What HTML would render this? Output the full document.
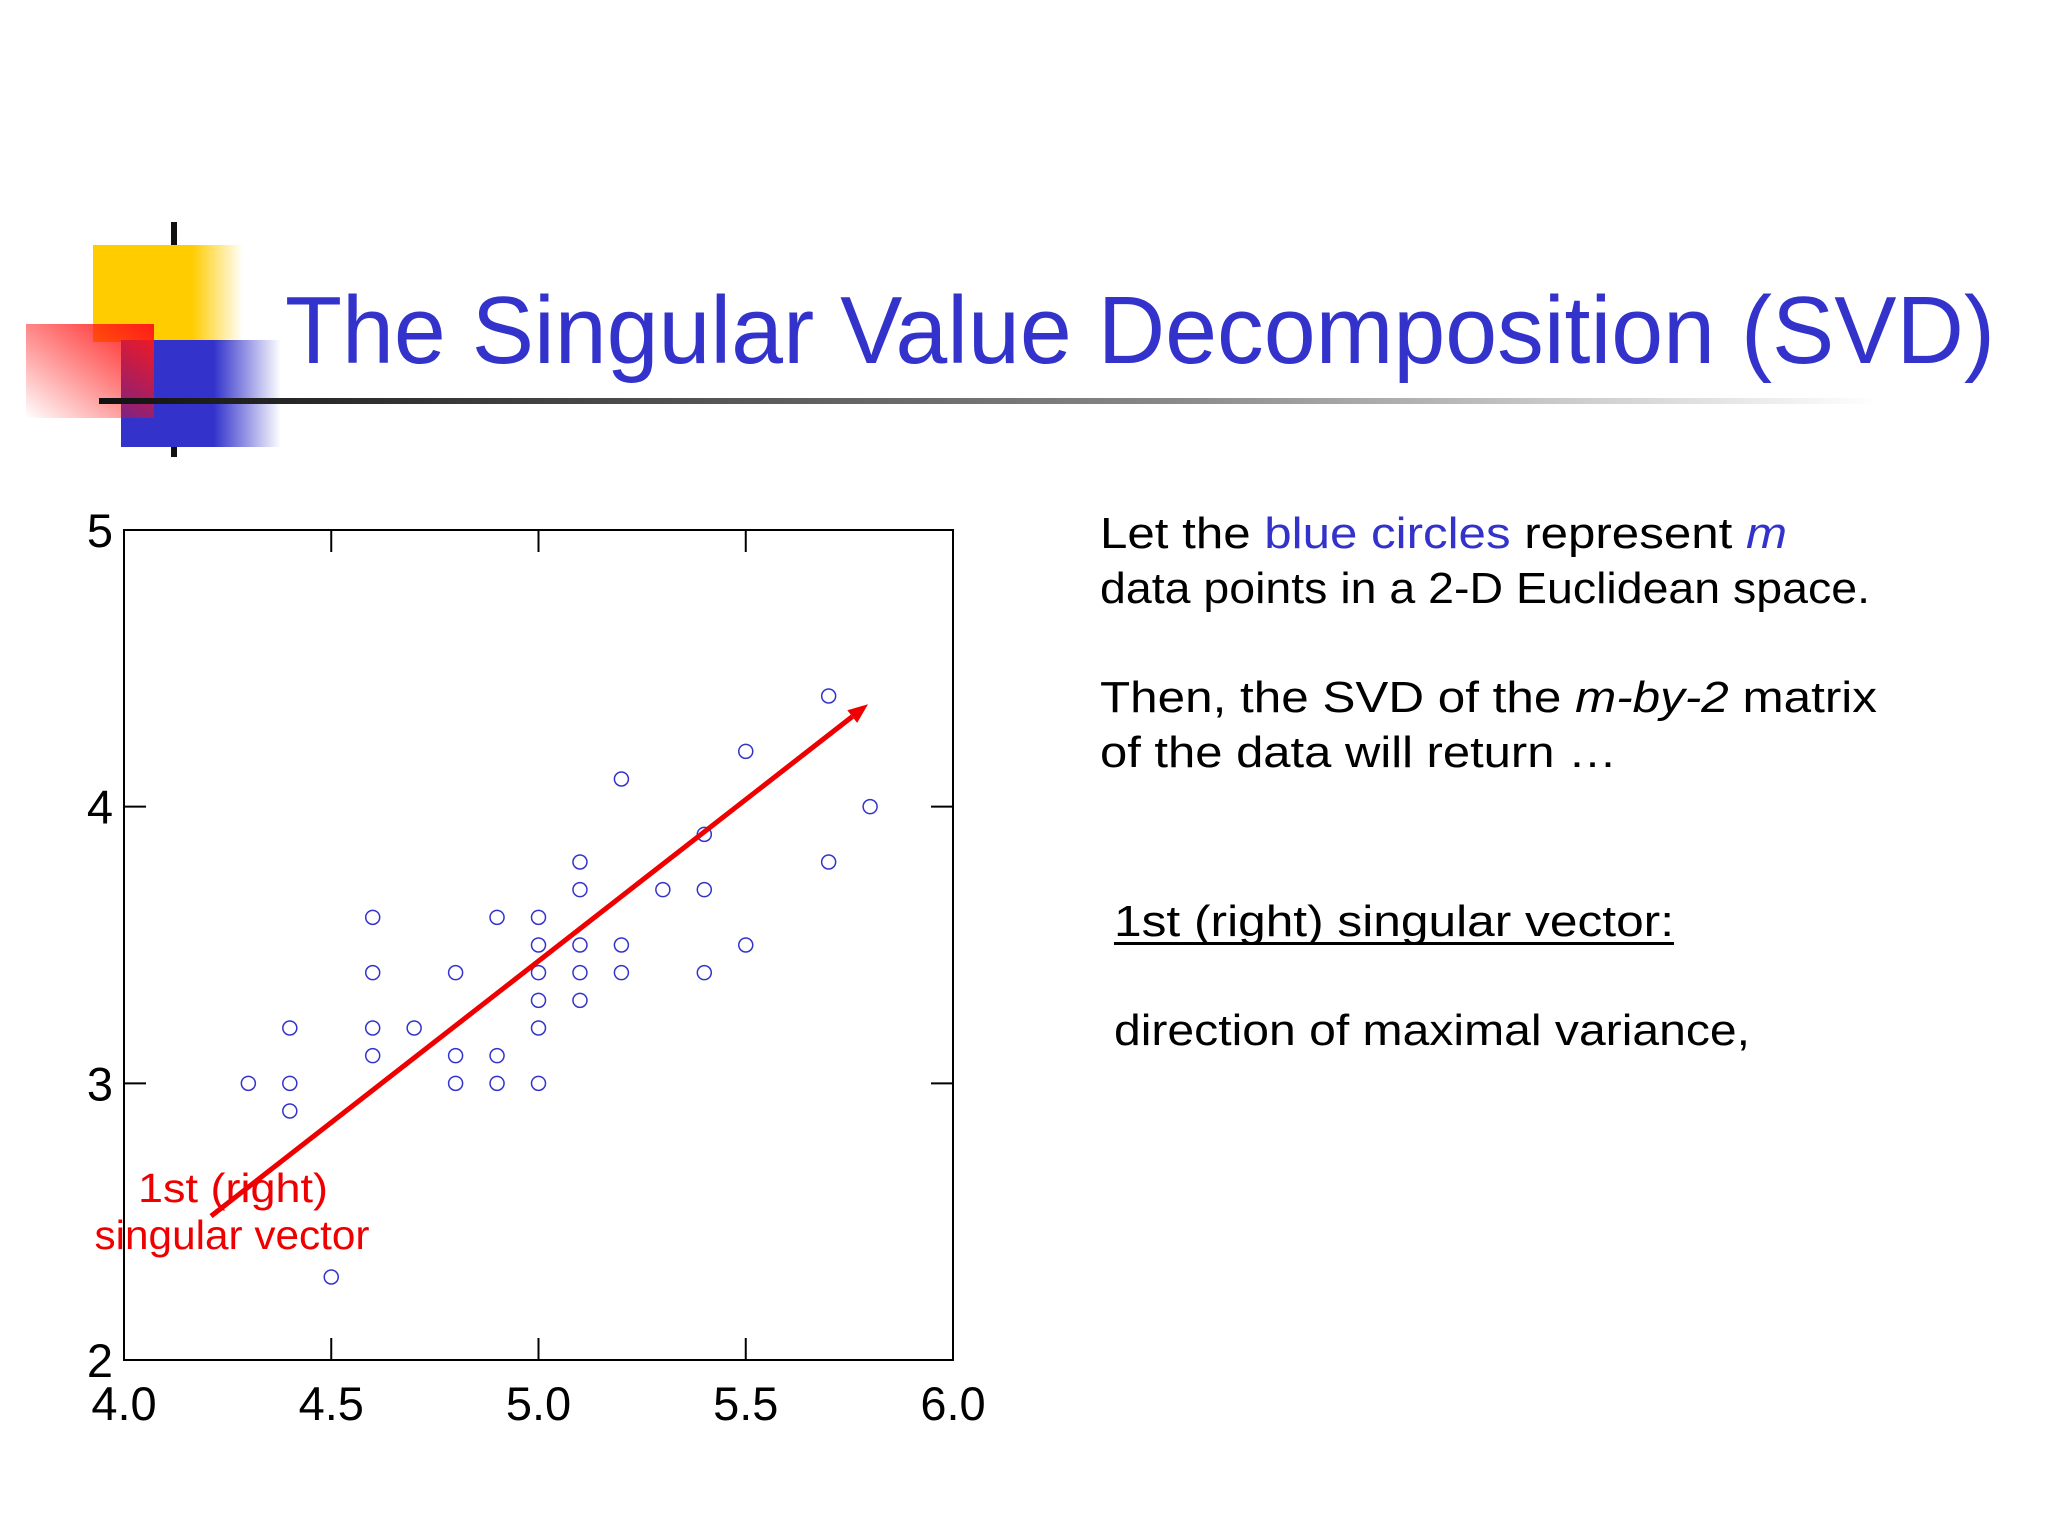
<!DOCTYPE html>
<html><head><meta charset="utf-8"><style>
html,body{margin:0;padding:0;background:#fff;}
svg{display:block;}
text{font-family:"Liberation Sans",sans-serif;}
</style></head><body>
<svg id="slide" width="2048" height="1536" viewBox="0 0 2048 1536">
<defs>
<linearGradient id="gy" x1="0" x2="1" y1="0" y2="0"><stop offset="0.66" stop-color="#ffcc00"/><stop offset="1" stop-color="#ffcc00" stop-opacity="0"/></linearGradient>
<linearGradient id="gb" x1="0" x2="1" y1="0" y2="0"><stop offset="0.58" stop-color="#3333cc"/><stop offset="1" stop-color="#3333cc" stop-opacity="0"/></linearGradient>
<linearGradient id="gr" x1="1" x2="0" y1="0" y2="1"><stop offset="0" stop-color="#ff1a1a"/><stop offset="1" stop-color="#ff0000" stop-opacity="0"/></linearGradient>
<linearGradient id="gl" x1="0" x2="1" y1="0" y2="0"><stop offset="0" stop-color="#111"/><stop offset="0.6" stop-color="#888"/><stop offset="1" stop-color="#fff"/></linearGradient>
</defs>
<g>
<rect x="171" y="222" width="6" height="235" fill="#111"/>
<rect x="93" y="245" width="150" height="97" fill="url(#gy)"/>
<rect x="121" y="340" width="160" height="107" fill="url(#gb)"/>
<rect x="26" y="324" width="128" height="94" fill="url(#gr)"/>
<rect x="99" y="398" width="1780" height="6" fill="url(#gl)"/>
</g>
<text x="285" y="363" font-size="96" fill="#3333cc" textLength="1710" lengthAdjust="spacingAndGlyphs">The Singular Value Decomposition (SVD)</text>

<g id="chart"></g>

<g font-size="44" fill="#000">
<text x="1100" y="548" textLength="687" lengthAdjust="spacingAndGlyphs">Let the <tspan fill="#3333cc">blue circles</tspan> represent <tspan fill="#3333cc" font-style="italic">m</tspan></text>
<text x="1100" y="603" textLength="770" lengthAdjust="spacingAndGlyphs">data points in a 2-D Euclidean space.</text>
<text x="1100" y="712" textLength="777" lengthAdjust="spacingAndGlyphs">Then, the SVD of the <tspan font-style="italic">m-by-2</tspan> matrix</text>
<text x="1100" y="767" textLength="517" lengthAdjust="spacingAndGlyphs">of the data will return …</text>
<text x="1114" y="936" textLength="560" lengthAdjust="spacingAndGlyphs">1st (right) singular vector:</text>
<rect x="1114" y="942" width="560" height="3" fill="#000"/>
<text x="1114" y="1045" textLength="636" lengthAdjust="spacingAndGlyphs">direction of maximal variance,</text>
</g>
</svg>
<script>
const xs=[4.3,4.4,4.4,4.4,4.5,4.6,4.6,4.6,4.6,4.7,4.8,4.8,4.8,4.9,4.9,4.9,5.0,5.0,5.0,5.0,5.0,5.0,5.1,5.1,5.1,5.1,5.1,5.2,5.2,5.2,5.3,5.4,5.4,5.4,5.5,5.5,5.7,5.7,5.8];
const ys=[3.0,3.2,3.0,2.9,2.3,3.6,3.4,3.2,3.1,3.2,3.4,3.1,3.0,3.6,3.1,3.0,3.6,3.5,3.4,3.3,3.2,3.0,3.8,3.7,3.5,3.4,3.3,4.1,3.5,3.4,3.7,3.9,3.7,3.4,4.2,3.5,4.4,3.8,4.0];
const xTicks=[4.0,4.5,5.0,5.5,6.0];
const xTickLabels=["4.0","4.5","5.0","5.5","6.0"];
const yTicks=[2,3,4,5];
const yTickLabels=["2","3","4","5"];
const vecStart=[4.21,2.52];
const vecEnd=[5.795,4.37];
const NS="http://www.w3.org/2000/svg";
const L=124,R=953,T=530,B=1360;
const sx=v=>L+(v-4)/2*(R-L);
const sy=v=>B-(v-2)/3*(B-T);
const g=document.getElementById('chart');
function mk(tag,attrs,parent){const e=document.createElementNS(NS,tag);for(const k in attrs)e.setAttribute(k,attrs[k]);(parent||g).appendChild(e);return e;}
const frame=mk('rect',{x:L,y:T,width:R-L,height:B-T,fill:'none',stroke:'#000','stroke-width':2});


xTicks.forEach((v,i)=>{
  if(i>0&&i<xTicks.length-1){
    const t1=mk('line',{x1:sx(v),x2:sx(v),y1:B,y2:B-22,stroke:'#000','stroke-width':2});
    
    
    const t2=mk('line',{x1:sx(v),x2:sx(v),y1:T,y2:T+22,stroke:'#000','stroke-width':2});
    
    
  }
  const tx=mk('text',{x:sx(v),y:1420,'font-size':47,'text-anchor':'middle',fill:'#000'});
  tx.textContent=xTickLabels[i];
  
  
});
yTicks.forEach((v,i)=>{
  if(i>0&&i<yTicks.length-1){
    const t1=mk('line',{x1:L,x2:L+22,y1:sy(v),y2:sy(v),stroke:'#000','stroke-width':2});
    
    
    const t2=mk('line',{x1:R,x2:R-22,y1:sy(v),y2:sy(v),stroke:'#000','stroke-width':2});
    
    
  }
  const ty=mk('text',{x:113,y:sy(v)+17,'font-size':47,'text-anchor':'end',fill:'#000'});
  ty.textContent=yTickLabels[i];
  
  
});
xs.forEach((x,i)=>{
  const c=mk('circle',{cx:sx(x),cy:sy(ys[i]),r:7,fill:'none',stroke:'#3333cc','stroke-width':1.5});
  
  
});
const x1=sx(vecStart[0]),y1=sy(vecStart[1]),x2=sx(vecEnd[0]),y2=sy(vecEnd[1]);
const ang=Math.atan2(y2-y1,x2-x1),hl=20,hw=8;
const bx=x2-hl*Math.cos(ang),by=y2-hl*Math.sin(ang);
const ln=mk('line',{x1:x1,y1:y1,x2:bx,y2:by,stroke:'#ee0000','stroke-width':5});


const hd=mk('polygon',{points:`${x2},${y2} ${bx+hw*Math.sin(ang)},${by-hw*Math.cos(ang)} ${bx-hw*Math.sin(ang)},${by+hw*Math.cos(ang)}`,fill:'#ee0000'});


const l1=mk('text',{x:233,y:1202,'font-size':41,'text-anchor':'middle',fill:'#ee0000',textLength:190,lengthAdjust:'spacingAndGlyphs'});
l1.textContent='1st (right)';


const l2=mk('text',{x:232,y:1249,'font-size':41,'text-anchor':'middle',fill:'#ee0000',textLength:275,lengthAdjust:'spacingAndGlyphs'});
l2.textContent='singular vector';


</script>
</body></html>
